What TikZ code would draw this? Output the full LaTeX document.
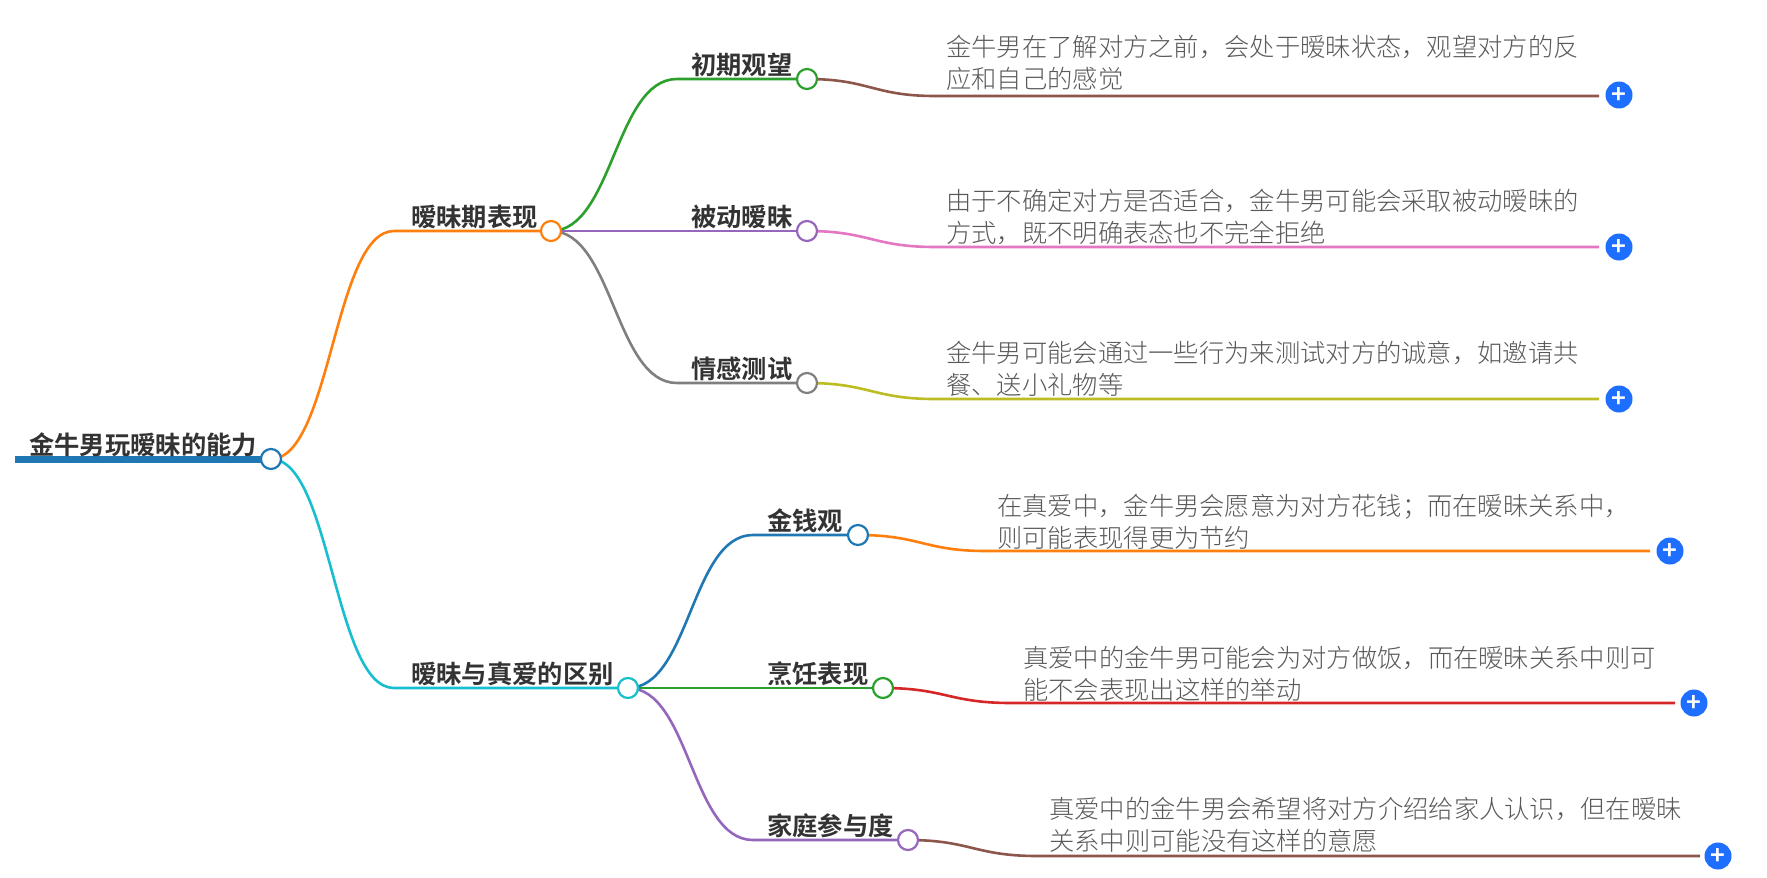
\documentclass[tikz,border=0pt]{standalone}
\usepackage{fontspec}
\setmainfont[BoldFont={Noto Sans CJK SC Bold}]{Noto Sans CJK SC Light}
\usetikzlibrary{positioning,backgrounds}
\definecolor{rootblue}{HTML}{1F77B4}
\definecolor{torange}{HTML}{FF7F0E}
\definecolor{tcyan}{HTML}{17BECF}
\definecolor{tgreen}{HTML}{2CA02C}
\definecolor{tpurple}{HTML}{9467BD}
\definecolor{tgray}{HTML}{7F7F7F}
\definecolor{tbrown}{HTML}{8C564B}
\definecolor{tpink}{HTML}{E377C2}
\definecolor{tolive}{HTML}{BCBD22}
\definecolor{tred}{HTML}{D62728}
\definecolor{plusblue}{HTML}{1E6FFF}
\tikzset{
  dot/.style={circle,draw=#1,fill=white,line width=2.2pt,minimum size=20pt,inner sep=0pt},
  topic/.style={font=\bfseries\fontsize{25.3}{30}\selectfont,text=black!80,inner sep=0pt,anchor=base west},
  detail/.style={font=\fontsize{25.3}{32}\selectfont,text=black!65,inner sep=0pt,anchor=west,align=left},
  plus/.style={circle,fill=plusblue,text=white,minimum size=27pt,inner sep=0pt,font=\bfseries\fontsize{25}{25}\selectfont},
  branch/.style={line width=2.6pt,draw=#1}
}
\begin{document}
\begin{tikzpicture}[x=1pt,y=-1pt]
  \useasboundingbox (0,0) rectangle (1767,878);
  % circles on the branches
  \node[dot=rootblue] (root) at (271,459) {};
  \node[dot=torange] (flirt) at (551,231) {};
  \node[dot=tcyan] (differ) at (628,688) {};
  \node[dot=tgreen] (early) at (807,79) {};
  \node[dot=tpurple] (passive) at (807,231) {};
  \node[dot=tgray] (test) at (807,383) {};
  \node[dot=rootblue] (money) at (858,535) {};
  \node[dot=tgreen] (cook) at (883,688) {};
  \node[dot=tpurple] (family) at (908,840) {};
  % bends
  \coordinate (flirtbend) at (394,231);
  \coordinate (differbend) at (394,688);
  \coordinate (earlybend) at (677,79);
  \coordinate (testbend) at (677,383);
  \coordinate (moneybend) at (753,535);
  \coordinate (familybend) at (753,840);
  \coordinate (earlyend) at (935,96);
  \coordinate (passiveend) at (935,247);
  \coordinate (testend) at (935,399);
  \coordinate (moneyend) at (986,551);
  \coordinate (cookend) at (1011,703);
  \coordinate (familyend) at (1037,856);
  % plus buttons
  \node[plus] (earlyplus) at (1619,95) {+};
  \node[plus] (passiveplus) at (1619,247) {+};
  \node[plus] (testplus) at (1619,399) {+};
  \node[plus] (moneyplus) at (1670,551) {+};
  \node[plus] (cookplus) at (1694,703) {+};
  \node[plus] (familyplus) at (1718,856) {+};
  \coordinate (rootstart) at (15,459);
  \coordinate (earlystop) at (1599,96);
  \coordinate (passivestop) at (1599,247);
  \coordinate (teststop) at (1599,399);
  \coordinate (moneystop) at (1650,551);
  \coordinate (cookstop) at (1675,703);
  \coordinate (familystop) at (1700,856);
  \begin{scope}[on background layer]
    \draw[line width=7pt,rootblue] (rootstart) -- (root.center);
    \draw[branch=torange] (root.center) .. controls +(60,0) and +(-60,0) .. (flirtbend) -- (flirt.center);
    \draw[branch=tcyan] (root.center) .. controls +(60,0) and +(-60,0) .. (differbend) -- (differ.center);
    \draw[branch=tgreen] (flirt.center) .. controls +(62,0) and +(-62,0) .. (earlybend) -- (early.center);
    \draw[branch=tpurple] (flirt.center) -- (passive.center);
    \draw[branch=tgray] (flirt.center) .. controls +(62,0) and +(-62,0) .. (testbend) -- (test.center);
    \draw[branch=rootblue] (differ.center) .. controls +(62,0) and +(-62,0) .. (moneybend) -- (money.center);
    \draw[branch=tgreen] (differ.center) -- (cook.center);
    \draw[branch=tpurple] (differ.center) .. controls +(62,0) and +(-62,0) .. (familybend) -- (family.center);
    \draw[branch=tbrown] (early.center) .. controls +(62,0) and +(-62,0) .. (earlyend) -- (earlystop);
    \draw[branch=tpink] (passive.center) .. controls +(62,0) and +(-62,0) .. (passiveend) -- (passivestop);
    \draw[branch=tolive] (test.center) .. controls +(62,0) and +(-62,0) .. (testend) -- (teststop);
    \draw[branch=torange] (money.center) .. controls +(62,0) and +(-62,0) .. (moneyend) -- (moneystop);
    \draw[branch=tred] (cook.center) .. controls +(62,0) and +(-62,0) .. (cookend) -- (cookstop);
    \draw[branch=tbrown] (family.center) .. controls +(62,0) and +(-62,0) .. (familyend) -- (familystop);
  \end{scope}
  % labels
  \node[topic] (roottext) at (29,454) {金牛男玩暧昧的能力};
  \node[topic] (flirttext) at (411,226) {暧昧期表现};
  \node[topic] (differtext) at (411,683) {暧昧与真爱的区别};
  \node[topic] (earlytext) at (691,74) {初期观望};
  \node[topic] (passivetext) at (691,226) {被动暧昧};
  \node[topic] (testtext) at (691,378) {情感测试};
  \node[topic] (moneytext) at (767,530) {金钱观};
  \node[topic] (cooktext) at (767,683) {烹饪表现};
  \node[topic] (familytext) at (767,835) {家庭参与度};
  % details
  \node[detail] (earlynote) at (946,63) {金牛男在了解对方之前，会处于暧昧状态，观望对方的反\\应和自己的感觉};
  \node[detail] (passivenote) at (946,217) {由于不确定对方是否适合，金牛男可能会采取被动暧昧的\\方式，既不明确表态也不完全拒绝};
  \node[detail] (testnote) at (946,369) {金牛男可能会通过一些行为来测试对方的诚意，如邀请共\\餐、送小礼物等};
  \node[detail] (moneynote) at (997,522) {在真爱中，金牛男会愿意为对方花钱；而在暧昧关系中，\\则可能表现得更为节约};
  \node[detail] (cooknote) at (1023,674) {真爱中的金牛男可能会为对方做饭，而在暧昧关系中则可\\能不会表现出这样的举动};
  \node[detail] (familynote) at (1049,825) {真爱中的金牛男会希望将对方介绍给家人认识，但在暧昧\\关系中则可能没有这样的意愿};
\end{tikzpicture}
\end{document}
